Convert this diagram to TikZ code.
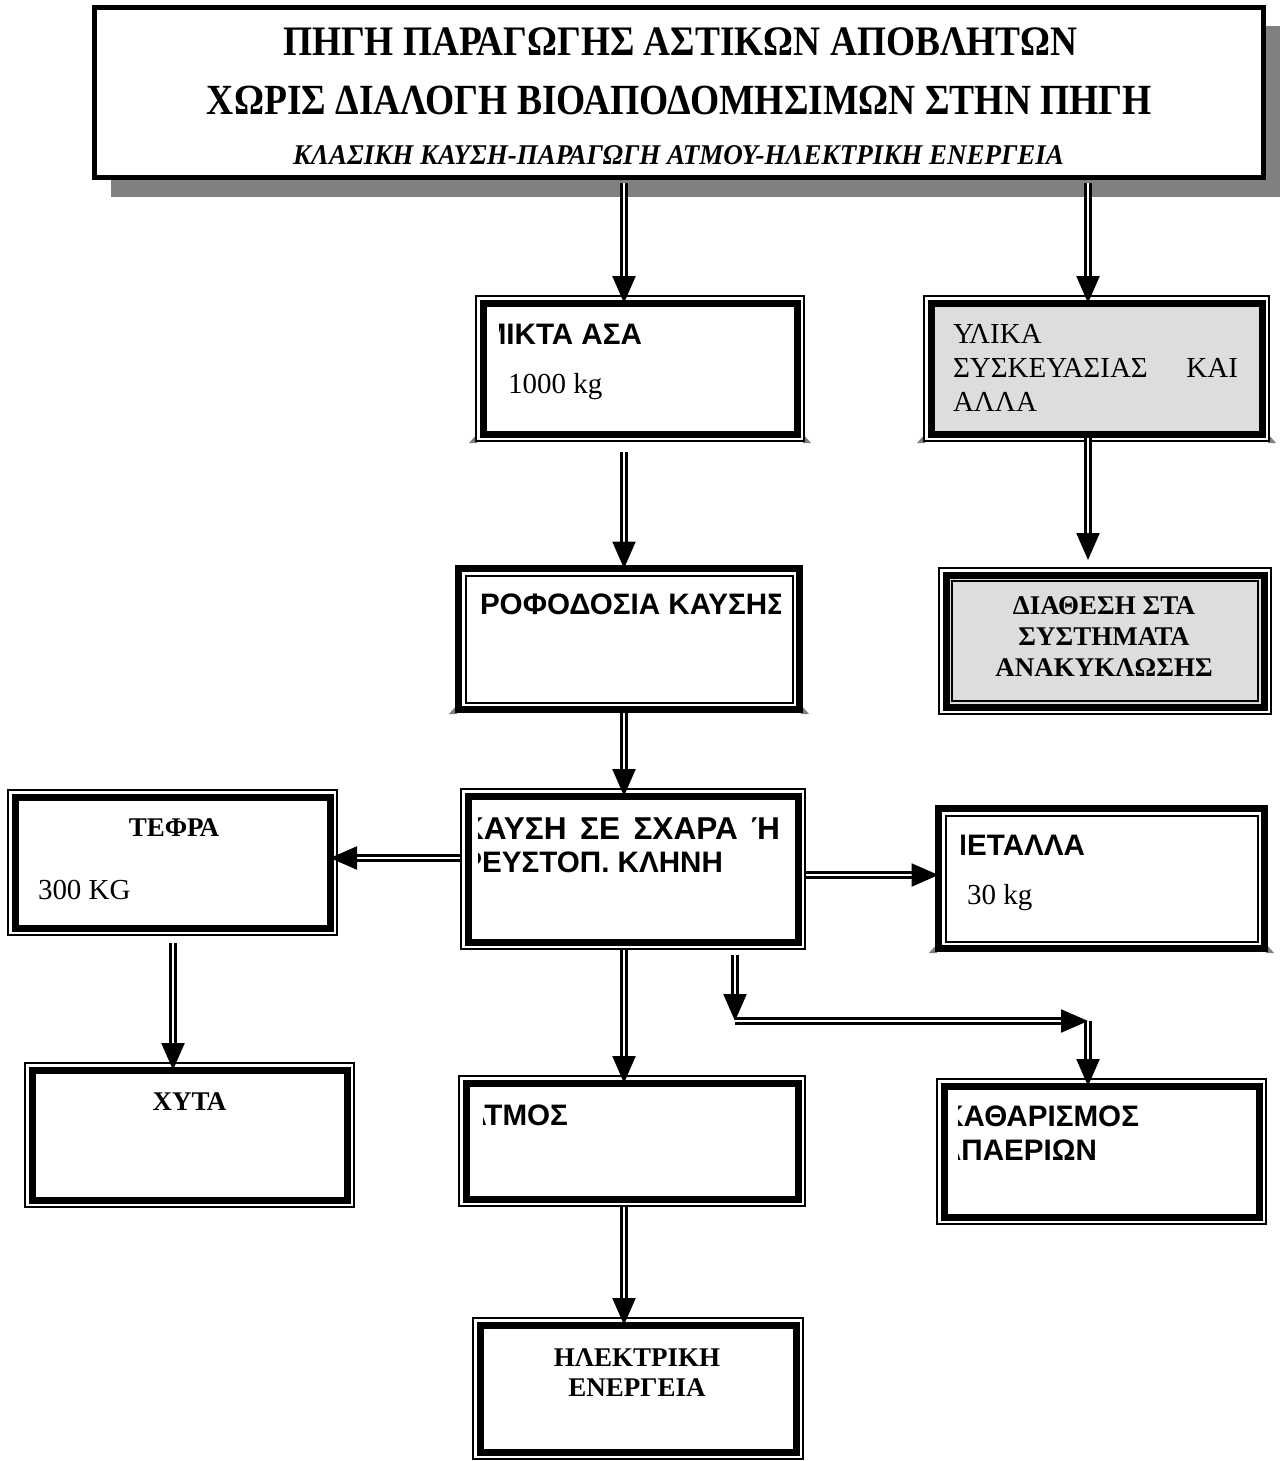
\documentclass[tikz,border=0pt]{standalone}
\usepackage{fontspec}
\setmainfont{Liberation Serif}
\setsansfont{Liberation Sans}
\usetikzlibrary{arrows.meta,shadows,calc}
\definecolor{boxgray}{RGB}{221,221,221}
\definecolor{shadowgray}{RGB}{128,128,128}
\newcommand\fSB{\sffamily\bfseries\fontsize{14.8pt}{17pt}\selectfont}
\newcommand\fSBL{\sffamily\bfseries\fontsize{15.8pt}{18pt}\selectfont}
\newcommand\fRR{\rmfamily\fontsize{14.5pt}{16.7pt}\selectfont}
\newcommand\fRB{\rmfamily\bfseries\fontsize{13.5pt}{15.5pt}\selectfont}
\newcommand\bevelcorners[3]{%
  \fill[shadowgray] (#1-6,#3+1) -- (#1+2,#3-8) -- (#1+2,#3+1) -- cycle;
  \fill[shadowgray] (#2+6,#3+1) -- (#2-2,#3-8) -- (#2-2,#3+1) -- cycle;}
\tikzset{
  frame/.style={draw=black, line width=3.5pt, inner sep=0pt, outer sep=0pt, fill=white},
  thinthick/.style={frame, preaction={draw=black, line width=8pt}, preaction={draw=white, line width=6pt}},
  thickthin/.style={frame, path picture={\draw[line width=1pt]
      ([shift={(3.5pt,3.5pt)}]path picture bounding box.south west) rectangle
      ([shift={(-3.5pt,-3.5pt)}]path picture bounding box.north east);}},
  thinthickthin/.style={thinthick, path picture={\draw[line width=0.8pt]
      ([shift={(3pt,3pt)}]path picture bounding box.south west) rectangle
      ([shift={(-3pt,-3pt)}]path picture bounding box.north east);}},
  txt/.style={inner sep=0pt, outer sep=0pt},
  dbl/.style={draw=black, line width=1.15pt, double=white, double distance=1.25pt,
      -{Triangle[length=13.5pt,width=11.5pt]}},
}
\begin{document}
\begin{tikzpicture}[x=0.5pt,y=-0.5pt]
\useasboundingbox (0,0) rectangle (1288,1461);
% top box
\node[draw=black, line width=2.5pt, fill=white, inner sep=0pt,
  minimum width=584.5pt, minimum height=85pt,
  drop shadow={shadow xshift=8pt, shadow yshift=-9.5pt, fill=shadowgray, opacity=1}]
  (A) at (679,92.5) {};
\node[txt, anchor=base] (A1) at (680,56) {\resizebox{397pt}{\height}{\fontsize{21pt}{24pt}\selectfont\bfseries ΠΗΓΗ ΠΑΡΑΓΩΓΗΣ ΑΣΤΙΚΩΝ ΑΠΟΒΛΗΤΩΝ}};
\node[txt, anchor=base] (A2) at (679.5,115) {\resizebox{472.5pt}{\height}{\fontsize{21.5pt}{24pt}\selectfont\bfseries ΧΩΡΙΣ ΔΙΑΛΟΓΗ ΒΙΟΑΠΟΔΟΜΗΣΙΜΩΝ ΣΤΗΝ ΠΗΓΗ}};
\node[txt, anchor=base] (A3) at (678.5,164) {\resizebox{385.5pt}{\height}{\fontsize{14.3pt}{17pt}\selectfont\bfseries\itshape ΚΛΑΣΙΚΗ ΚΑΥΣΗ-ΠΑΡΑΓΩΓΗ ΑΤΜΟΥ-ΗΛΕΚΤΡΙΚΗ ΕΝΕΡΓΕΙΑ}};
% bevel corners
\bevelcorners{475}{805}{442}
\bevelcorners{455}{803}{713}
\bevelcorners{923}{1270}{442}
\bevelcorners{935}{1268}{952}
% boxes
\node[thinthick, minimum width=157pt, minimum height=65.5pt] (B) at (640,368.5) {};
\node[thinthick, fill=boxgray, minimum width=165.5pt, minimum height=65.5pt] (E) at (1096.5,368.5) {};
\node[thickthin, minimum width=170.5pt, minimum height=70.5pt] (C) at (629,639) {};
\node[thinthickthin, fill=boxgray, minimum width=159pt, minimum height=66pt] (F) at (1105,641) {};
\node[thinthick, minimum width=165pt, minimum height=73pt] (D) at (633,869) {};
\node[thinthick, minimum width=157.5pt, minimum height=65.5pt] (G) at (172.5,862.5) {};
\node[thickthin, minimum width=163pt, minimum height=70pt] (H) at (1101.5,878.5) {};
\node[thinthick, minimum width=157.5pt, minimum height=65pt] (I) at (189.5,1135) {};
\node[thinthick, minimum width=166pt, minimum height=58pt] (J) at (632,1141) {};
\node[thinthick, minimum width=157.5pt, minimum height=65.5pt] (L) at (1101.5,1151.5) {};
\node[thinthick, minimum width=158pt, minimum height=63.5pt] (K) at (638,1388.5) {};
% texts
\begin{scope}
  \clip (499,305) rectangle (795,432);
  \node[txt, anchor=base east] (Bt) at (642,344) {\fSB ΜΙΚΤΑ ΑΣΑ};
\end{scope}
\node[txt, anchor=base west] (Bk) at (508,393) {\fRR 1000 kg};
\node[txt, anchor=base west] (E1) at (953,343) {\fRR ΥΛΙΚΑ};
\node[txt, anchor=base west] (E2) at (953,377) {\fRR\makebox[142.5pt][l]{ΣΥΣΚΕΥΑΣΙΑΣ\hfill ΚΑΙ}};
\node[txt, anchor=base west] (E3) at (953,411) {\fRR ΑΛΛΑ};
\begin{scope}
  \clip (480,575) rectangle (780,705);
  \node[txt, anchor=base west] (Ct) at (480,614) {\fSB\llap{Π}ΡΟΦΟΔΟΣΙΑ ΚΑΥΣΗΣ};
\end{scope}
\node[txt, anchor=base] (F1) at (1104,614) {\fRB ΔΙΑΘΕΣΗ ΣΤΑ};
\node[txt, anchor=base] (F2) at (1104,645) {\fRB ΣΥΣΤΗΜΑΤΑ};
\node[txt, anchor=base] (F3) at (1104,676) {\fRB ΑΝΑΚΥΚΛΩΣΗΣ};
\begin{scope}
  \clip (478,800) rectangle (796,940);
  \node[txt, anchor=base west] (D1) at (461,839) {\fSBL\makebox[159.5pt][s]{ΚΑΥΣΗ ΣΕ ΣΧΑΡΑ Ή}};
  \node[txt, anchor=base east] (D2) at (723,872) {\fSB ΡΕΥΣΤΟΠ. ΚΛΗΝΗ};
\end{scope}
\node[txt, anchor=base] (G1) at (174,836) {\fRB ΤΕΦΡΑ};
\node[txt, anchor=base west] (G2) at (38,899) {\fRR 300 KG};
\begin{scope}
  \clip (961,815) rectangle (1258,942);
  \node[txt, anchor=base east] (H1) at (1085,855) {\fSB ΜΕΤΑΛΛΑ};
\end{scope}
\node[txt, anchor=base west] (H2) at (967,904) {\fRR 30 kg};
\node[txt, anchor=base] (I1) at (189.5,1110) {\fRB ΧΥΤΑ};
\begin{scope}
  \clip (483,1090) rectangle (796,1196);
  \node[txt, anchor=base east] (J1) at (568,1125) {\fSB ΑΤΜΟΣ};
\end{scope}
\begin{scope}
  \clip (958,1092) rectangle (1256,1214);
  \node[txt, anchor=base east] (L1) at (1139,1126) {\fSB ΚΑΘΑΡΙΣΜΟΣ};
  \node[txt, anchor=base east] (L2) at (1097,1160) {\fSB ΑΠΑΕΡΙΩΝ};
\end{scope}
\node[txt, anchor=base] (K1) at (637,1366) {\fRB ΗΛΕΚΤΡΙΚΗ};
\node[txt, anchor=base] (K2) at (637,1396) {\fRB ΕΝΕΡΓΕΙΑ};
% connector guides
\coordinate (cx) at (624,0);
\coordinate (ex) at (1088,0);
\coordinate (gx) at (173,0);
\coordinate (r1) at (0,858);
\coordinate (r2) at (0,875);
\coordinate (e1) at (735,1021);
\coordinate (e2) at (1088,1021);
% connectors
\draw[dbl, shorten <=1.25pt] (A.south -| cx) -- (B.north -| cx);
\draw[dbl, shorten <=1.25pt] (A.south -| ex) -- (E.north -| ex);
\draw[dbl, shorten <=9pt] (B.south -| cx) -- (C.north -| cx);
\draw[dbl, shorten <=1.75pt, shorten >=7.5pt] (E.south -| ex) -- (F.north -| ex);
\draw[dbl, shorten <=1.75pt] (C.south -| cx) -- (D.north -| cx);
\draw[dbl, shorten <=4pt] (D.west |- r1) -- (G.east |- r1);
\draw[dbl, shorten <=4pt] (D.east |- r2) -- (H.west |- r2);
\draw[dbl, shorten <=7.5pt] (G.south -| gx) -- (I.north -| gx);
\draw[dbl, shorten <=4pt] (D.south -| cx) -- (J.north -| cx);
\draw[dbl, shorten <=4pt] (J.south -| cx) -- (K.north -| cx);
\draw[dbl, shorten <=6.5pt] (D.south -| e1) -- (e1);
\draw[dbl] (e1) -- (e2);
\draw[dbl] (e2) -- (L.north -| e2);
\end{tikzpicture}
\end{document}
